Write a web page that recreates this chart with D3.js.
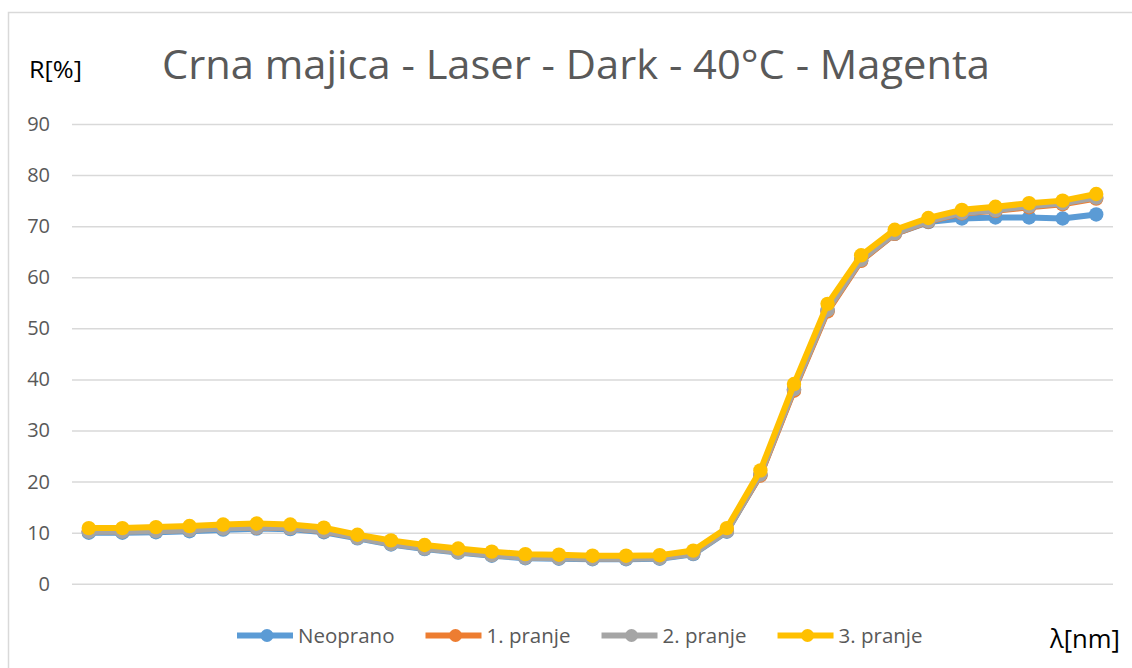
<!DOCTYPE html>
<html>
<head>
<meta charset="utf-8">
<script src="https://cdn.jsdelivr.net/npm/d3@7"></script>
<style>
body{margin:0;background:#fff}
svg text{font-family:"Open Sans",Calibri,sans-serif}
</style>
</head>
<body>
<svg id="svg" width="1132" height="668"></svg>
<script>
var width=+d3.select("#svg").attr("width")
var height=+d3.select("#svg").attr("height")

// wavelengths (nm), one per point
var wavelengths=[400,410,420,430,440,450,460,470,480,490,500,510,520,530,540,550,560,570,580,590,600,610,620,630,640,650,660,670,680,690,700]
var seriesNames=["Neoprano","1. pranje","2. pranje","3. pranje"]
var seriesColors=["#5B9BD5","#ED7D31","#A5A5A5","#FFC000"]
var yTicks=[0,10,20,30,40,50,60,70,80,90]

var neoprano=[10.0,10.0,10.1,10.3,10.6,10.8,10.7,10.1,8.9,7.7,6.8,6.1,5.5,5.0,4.9,4.8,4.8,4.9,5.8,10.2,21.3,38.0,53.5,63.3,68.5,70.8,71.5,71.7,71.7,71.5,72.3]
var pranje1=[10.3,10.3,10.4,10.6,10.9,11.0,10.9,10.3,9.1,7.9,7.0,6.3,5.7,5.2,5.1,5.0,5.0,5.1,6.0,10.4,21.2,37.8,53.3,63.2,68.5,70.9,72.5,73.0,73.7,74.3,75.4]
var pranje2=[10.2,10.2,10.3,10.5,10.8,11.0,10.9,10.3,9.0,7.8,6.9,6.2,5.6,5.1,5.0,4.9,4.9,5.0,5.9,10.3,21.4,38.1,53.6,63.4,68.6,71.0,72.6,73.1,73.9,74.5,75.6]
var pranje3=[10.9,10.9,11.1,11.3,11.6,11.8,11.6,11.0,9.6,8.5,7.6,6.9,6.3,5.8,5.7,5.5,5.5,5.6,6.5,10.9,22.2,39.1,54.8,64.3,69.3,71.6,73.2,73.8,74.5,75.0,76.3]
var seriesValues=[neoprano,pranje1,pranje2,pranje3]

var svg=d3.select("#svg")
var plotLeft=72, plotRight=1113, plotTop=124, plotBottom=583.8

// chart frame
svg.append("rect")
    .attr("x",8.5).attr("y",12.5)
    .attr("width",width).attr("height",height)
    .style("fill","none").style("stroke","#d9d9d9").style("stroke-width",1.5)

var x=d3.scalePoint()
    .domain(wavelengths)
    .range([plotLeft,plotRight])
    .padding(0.5)

var y=d3.scaleLinear()
    .domain([0,90])
    .range([plotBottom,plotTop])

//gridlines + labels via axis
var yAxis=svg.append("g")
    .attr("transform","translate("+plotLeft+",0)")
    .call(d3.axisLeft(y).tickValues(yTicks).tickSize(-(plotRight-plotLeft)).tickPadding(22))
yAxis.select(".domain").remove()
yAxis.selectAll(".tick line").style("stroke","#d9d9d9").style("stroke-width",1.5)
yAxis.selectAll(".tick text")
    .style("font-family","'Open Sans',sans-serif")
    .style("font-size","20px")
    .style("fill","#595959")

var line=d3.line()
    .x((d,i)=>x(wavelengths[i]))
    .y(d=>y(d))

var series=svg.selectAll(".series")
    .data(seriesValues)
    .enter().append("g")
        .attr("class","series")

series.append("path")
    .attr("d",d=>line(d))
    .style("fill","none")
    .style("stroke",(d,i)=>seriesColors[i])
    .style("stroke-width",6)
    .style("stroke-linejoin","round")

series.each(function(vals,si){
    d3.select(this).selectAll("circle")
        .data(vals)
        .enter().append("circle")
            .attr("cx",(d,i)=>x(wavelengths[i]))
            .attr("cy",d=>y(d))
            .attr("r",7.2)
            .style("fill",seriesColors[si])
})

//title
svg.append("text")
    .text("Crna majica - Laser - Dark - 40°C - Magenta")
    .attr("x",162).attr("y",79)
    .attr("textLength",828).attr("lengthAdjust","spacingAndGlyphs")
    .style("font-size","40px")
    .style("fill","#595959")

svg.append("text")
    .text("R[%]")
    .attr("x",29).attr("y",77.5)
    .attr("textLength",53).attr("lengthAdjust","spacingAndGlyphs")
    .style("font-size","23px")
    .style("fill","#000")

svg.append("text")
    .text("λ[nm]")
    .attr("x",1050).attr("y",648)
    .attr("textLength",70).attr("lengthAdjust","spacingAndGlyphs")
    .style("font-size","25px")
    .style("fill","#000")

//legend
var legendY=635.5
var lx=237
seriesNames.forEach((name,i)=>{
    var g=svg.append("g").attr("class","legend-item")
    g.append("line")
        .attr("x1",lx).attr("x2",lx+56)
        .attr("y1",legendY).attr("y2",legendY)
        .style("stroke",seriesColors[i]).style("stroke-width",6)
    g.append("circle")
        .attr("cx",lx+30).attr("cy",legendY).attr("r",6.5)
        .style("fill",seriesColors[i])
    var t=g.append("text")
        .text(name)
        .attr("x",lx+61).attr("y",legendY+7)
        .style("font-size","20.5px")
        .style("fill","#595959")
    lx=lx+61+t.node().getComputedTextLength()+31
})
</script>
</body>
</html>
